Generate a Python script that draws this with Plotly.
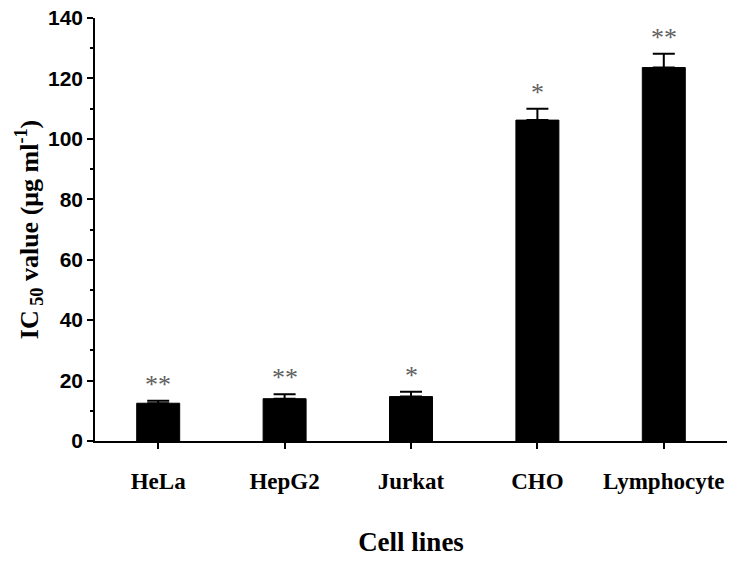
import plotly.graph_objects as go

categories = ["HeLa", "HepG2", "Jurkat", "CHO", "Lymphocyte"]
ic50_values = [12.5, 14.0, 14.7, 106.2, 123.6]
ic50_errors = [0.8, 1.5, 1.6, 3.8, 4.6]
significance = ["**", "**", "*", "*", "**"]
y_ticks = [0, 20, 40, 60, 80, 100, 120, 140]

serif = "Liberation Serif, Times New Roman, serif"
sans = "Liberation Sans, Arial, sans-serif"

fig = go.Figure()
fig.add_trace(go.Bar(
    x=categories,
    y=ic50_values,
    width=0.34,
    marker=dict(color="black", line=dict(color="black", width=1)),
    error_y=dict(type="data", symmetric=False, array=ic50_errors,
                 arrayminus=[0] * len(ic50_errors),
                 color="black", thickness=2, width=11),
    showlegend=False,
))

for c, v, e, s in zip(categories, ic50_values, ic50_errors, significance):
    fig.add_annotation(x=c, y=v + e, text=s, showarrow=False,
                       yanchor="bottom", yshift=0,
                       font=dict(family=serif, size=26, color="#606060"))

fig.update_layout(
    width=743, height=564,
    margin=dict(l=95, r=16, t=18, b=123, autoexpand=False),
    plot_bgcolor="white", paper_bgcolor="white",
)
fig.update_xaxes(
    range=[-0.5, 4.5], automargin=False,
    showline=True, linecolor="black", linewidth=1.5,
    ticks="outside", ticklen=6, tickwidth=1.5, tickcolor="black",
    ticklabelstandoff=13,
    tickfont=dict(family=serif, size=23, color="black", weight="bold"),
    title=dict(text="Cell lines", standoff=39,
               font=dict(family=serif, size=27, color="black", weight="bold")),
    showgrid=False, zeroline=False,
)
fig.update_yaxes(
    range=[0, 140], tickvals=y_ticks, automargin=False,
    showline=True, linecolor="black", linewidth=1.5,
    ticks="outside", ticklen=6, tickwidth=1.5, tickcolor="black",
    ticklabeloverflow="allow",
    minor=dict(ticks="outside", dtick=10, ticklen=3, tickwidth=1.5, tickcolor="black"),
    tickfont=dict(family=sans, size=21, color="black", weight="bold"),
    title=dict(text="<b>IC<sub> 50</sub> value (μg ml<sup>-1</sup>)</b>", standoff=2,
               font=dict(family=serif, size=26, color="black")),
    showgrid=False, zeroline=False,
)

# remove the page's default body margin so the figure fills the window exactly
fig.write_html("out.html",
               config={"displayModeBar": False},
               post_script="document.body.style.margin='0';document.body.style.overflow='hidden';")
